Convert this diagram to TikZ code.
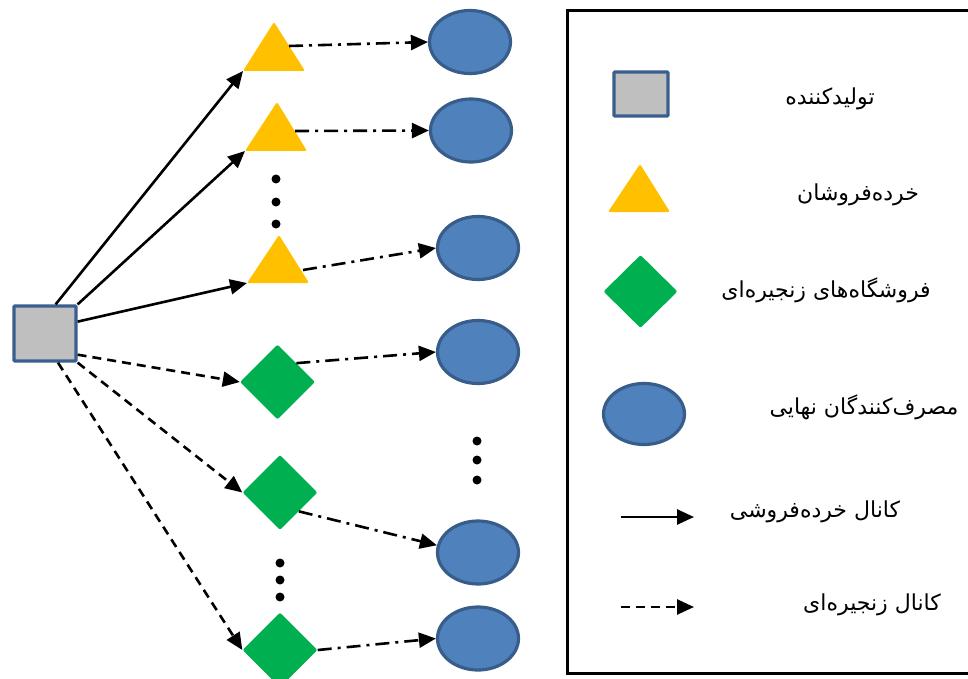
\documentclass[tikz,border=0pt]{standalone}
\usepackage{fontspec}
\usetikzlibrary{shapes.geometric,arrows.meta,calc}
\TeXXeTstate=1
\newfontfamily\fa[Script=Arabic]{DejaVu Sans}
\definecolor{prodfill}{HTML}{BFBFBF}
\definecolor{prodline}{HTML}{3A5F8E}
\definecolor{trifill}{HTML}{FFC000}
\definecolor{diafill}{HTML}{00B050}
\definecolor{ellfill}{HTML}{4F81BD}
\definecolor{ellline}{HTML}{385D8A}
\tikzset{
  prodbox/.style={rectangle, draw=prodline, fill=prodfill, line width=3.2pt, minimum width=62pt, minimum height=55pt, inner sep=0pt, rounded corners=1pt},
  trishape/.style={fill=trifill, rounded corners=2pt},
  diabox/.style={diamond, fill=diafill, minimum width=75pt, minimum height=75pt, inner sep=0pt, rounded corners=2pt},
  ellbox/.style={ellipse, draw=ellline, fill=ellfill, line width=3.2pt, minimum width=81pt, minimum height=63pt, inner sep=0pt},
  solidarrow/.style={line width=2.6pt, -{Triangle[length=17pt,width=15pt]}},
  dasharrow/.style={line width=2.6pt, dash pattern=on 9pt off 6pt, -{Triangle[length=17pt,width=15pt]}},
  dotarrow/.style={line width=2.6pt, dash pattern=on 14pt off 6pt on 3pt off 6pt, -{Triangle[length=17pt,width=15pt]}},
  dotmark/.style={circle, fill=black, minimum size=9pt, inner sep=0pt},
  legtext/.style={inner sep=0pt, font=\fa\fontsize{22}{26}\selectfont},
}
\begin{document}
\begin{tikzpicture}[x=1pt,y=-1pt]
\useasboundingbox (0,0) rectangle (968,679);
\clip (0,0) rectangle (968,679);

% legend frame
\draw[line width=3pt] (567,11) rectangle (980,673);

% producer
\node[prodbox] (prod) at (45,333.5) {};

% triangles (retailers)
\coordinate (t1a) at (274,22);  \coordinate (t1l) at (243,71);  \coordinate (t1r) at (305,71);
\coordinate (t2a) at (277,102); \coordinate (t2l) at (245,151); \coordinate (t2r) at (307,151);
\coordinate (t3a) at (279,235); \coordinate (t3l) at (247,283); \coordinate (t3r) at (309,283);
\fill[trishape] (t1a) -- (t1r) -- (t1l) -- cycle;
\fill[trishape] (t2a) -- (t2r) -- (t2l) -- cycle;
\fill[trishape] (t3a) -- (t3r) -- (t3l) -- cycle;
\coordinate (t1o) at (289,46);
\coordinate (t2o) at (295,131);
\coordinate (t3o) at (303,270);

% diamonds (chain stores)
\node[diabox] (d1) at (277.5,382) {};
\node[diabox] (d2) at (280,492.5) {};
\node[diabox] (d3) at (280,650) {};

% ellipses (final consumers)
\node[ellbox] (e1) at (470,42) {};
\node[ellbox] (e2) at (471,130.5) {};
\node[ellbox] (e3) at (478,248) {};
\node[ellbox] (e4) at (478,352) {};
\node[ellbox] (e5) at (478,552.5) {};
\node[ellbox] (e6) at (478,638.5) {};

% ellipsis dots
\node[dotmark] (a1) at (276,179) {};
\node[dotmark] (a2) at (276,202) {};
\node[dotmark] (a3) at (276,224) {};
\node[dotmark] (b1) at (280,563) {};
\node[dotmark] (b2) at (280,580) {};
\node[dotmark] (b3) at (280,597) {};
\node[dotmark] (c1) at (477,441) {};
\node[dotmark] (c2) at (477,460) {};
\node[dotmark] (c3) at (477,480) {};

% retail channel
\draw[solidarrow] (prod.70) -- (t1l);
\draw[solidarrow] (prod.north east) -- (t2l);
\draw[solidarrow] (prod.20) -- (t3l);
% chain channel
\draw[dasharrow] (prod.-33) -- (d1.west);
\draw[dasharrow] (prod.south east) -- (d2.west);
\draw[dasharrow] (prod.-66) -- (d3.west);
% to consumers
\draw[dotarrow] (t1o) -- (e1.west);
\draw[dotarrow] (t2o) -- (e2.west);
\draw[dotarrow] (t3o) -- (e3.west);
\draw[dotarrow] (d1.north east) -- (e4.west);
\draw[dotarrow] (d2.south east) -- (e5.170);
\draw[dotarrow] (d3.east) -- (e6.west);

% legend symbols
\node[prodbox, minimum width=54pt, minimum height=44pt] (lprod) at (641,94) {};
\coordinate (lta) at (640,164); \coordinate (ltl) at (608,212); \coordinate (ltr) at (670,212);
\fill[trishape] (lta) -- (ltr) -- (ltl) -- cycle;
\node[diabox, minimum width=74pt, minimum height=73pt] (ldia) at (640.5,291.5) {};
\node[ellbox, minimum width=81pt, minimum height=61pt] (lell) at (644,414) {};
\coordinate (ls1) at (621,517); \coordinate (le1) at (694,517);
\coordinate (ls2) at (621,607); \coordinate (le2) at (694,607);
\draw[solidarrow] (ls1) -- (le1);
\draw[dasharrow] (ls2) -- (le2);

% legend texts
\node[legtext] (txt1) at (830,99) {\beginR تولیدکننده\endR};
\node[legtext] (txt2) at (858,195) {\beginR خرده^^^^200cفروشان\endR};
\node[legtext] (txt3) at (826,290) {\beginR فروشگاه^^^^200cهای زنجیره^^^^200cای\endR};
\node[legtext] (txt4) at (864,407) {\beginR مصرف^^^^200cکنندگان نهایی\endR};
\node[legtext] (txt5) at (815,512) {\beginR کانال خرده^^^^200cفروشی\endR};
\node[legtext] (txt6) at (872,605) {\beginR کانال زنجیره^^^^200cای\endR};
\end{tikzpicture}
\end{document}
